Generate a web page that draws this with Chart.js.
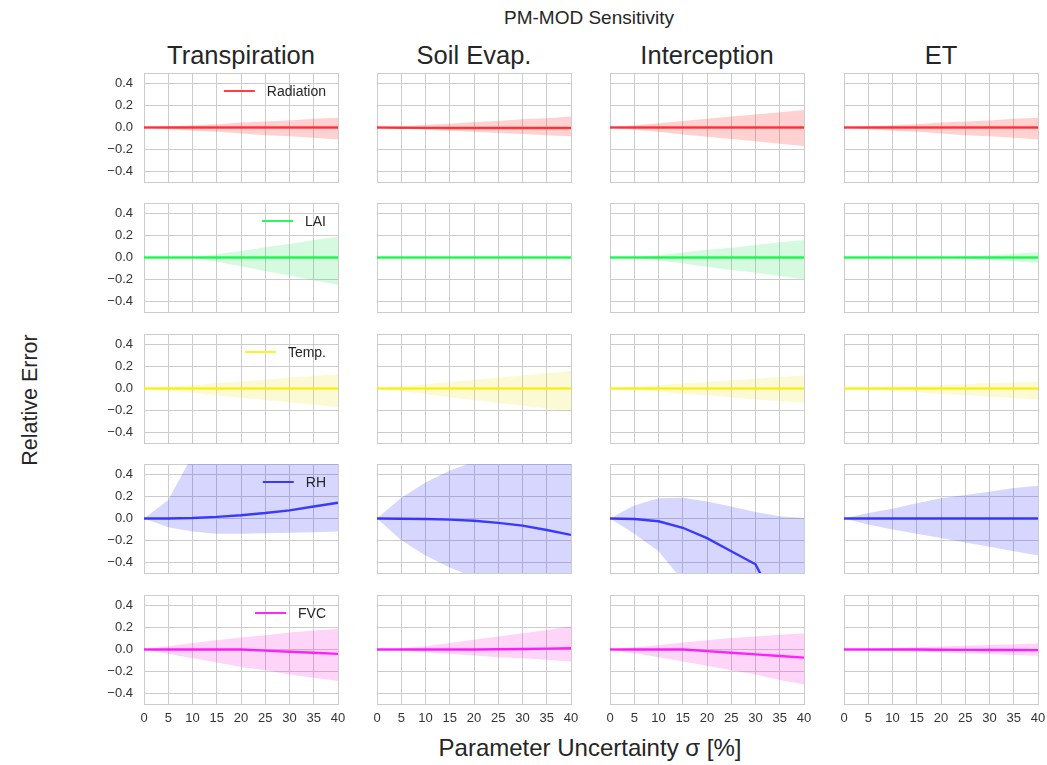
<!DOCTYPE html>
<html>
<head>
<meta charset="utf-8">
<script src="https://cdn.jsdelivr.net/npm/chart.js@4.4.0/dist/chart.umd.min.js"></script>
<style>
  body { margin: 0; background: #fff; font-family: "Liberation Sans", Arial, sans-serif; color: #262626; }
  #page { position: relative; width: 1047px; height: 765px; overflow: hidden; }
  #page canvas { position: absolute; }
  .txt { position: absolute; white-space: nowrap; }
  .legend { position: absolute; display: flex; align-items: center; font-size: 14px; color: #262626; transform: translate(-100%, -50%); }
  .legend span.ln { display: inline-block; width: 31px; height: 2.4px; margin-right: 12px; }
</style>
</head>
<body>
<div id="page">
  <div class="txt" style="left:589px; top:18px; font-size:19px; transform:translate(-50%,-50%);">PM-MOD Sensitivity</div>
  <div class="txt" style="left:30px; top:400px; font-size:21.5px; transform:translate(-50%,-50%) rotate(-90deg);">Relative Error</div>
  <div class="txt" style="left:590px; top:748px; font-size:24px; transform:translate(-50%,-50%);">Parameter Uncertainty σ [%]</div>
</div>
<script>
// x values (parameter uncertainty, %)
const sigma = [0, 5, 10, 15, 20, 25, 30, 35, 40];
const components = ["Transpiration", "Soil Evap.", "Interception", "ET"];
const parameters = ["Radiation", "LAI", "Temp.", "RH", "FVC"];
const xTicks = [0, 5, 10, 15, 20, 25, 30, 35, 40];
const yTicks = [-0.4, -0.2, 0, 0.2, 0.4];

// each array: one row per component (Transpiration, Soil Evap., Interception, ET)
const radiationMean = [
  [0, 0, 0, 0, 0, 0, 0, 0, 0],
  [0, -0.002, -0.003, -0.004, -0.005, -0.005, -0.005, -0.005, -0.005],
  [0, 0, 0, 0, 0, 0, 0, 0, 0],
  [0, 0, 0, 0, 0, 0, 0, 0, 0]
];
const radiationHigh = [
  [0, 0.01, 0.02, 0.03, 0.045, 0.055, 0.065, 0.08, 0.09],
  [0, 0.01, 0.025, 0.035, 0.05, 0.06, 0.075, 0.085, 0.1],
  [0, 0.02, 0.04, 0.06, 0.08, 0.1, 0.12, 0.14, 0.16],
  [0, 0.01, 0.02, 0.03, 0.045, 0.055, 0.065, 0.08, 0.09]
];
const radiationLow = [
  [0, -0.015, -0.03, -0.04, -0.055, -0.07, -0.08, -0.095, -0.11],
  [0, -0.01, -0.02, -0.03, -0.04, -0.05, -0.06, -0.07, -0.08],
  [0, -0.02, -0.04, -0.065, -0.085, -0.105, -0.125, -0.15, -0.17],
  [0, -0.015, -0.03, -0.04, -0.055, -0.07, -0.08, -0.095, -0.11]
];

const laiMean = [
  [0, 0, 0, 0, 0, 0, 0, 0, 0],
  [0, 0, 0, 0, 0, 0, 0, 0, 0],
  [0, 0, 0, 0, 0, 0, 0, 0, 0],
  [0, 0, 0, 0, 0, 0, 0, 0, 0]
];
const laiHigh = [
  [0, 0, 0, 0.03, 0.06, 0.095, 0.125, 0.16, 0.19],
  [0, 0, 0, 0, 0, 0, 0, 0, 0],
  [0, 0, 0.02, 0.045, 0.07, 0.09, 0.115, 0.14, 0.16],
  [0, 0, 0, 0, 0, 0.01, 0.02, 0.035, 0.05]
];
const laiLow = [
  [0, 0, 0, -0.04, -0.08, -0.125, -0.165, -0.21, -0.25],
  [0, 0, 0, 0, 0, 0, 0, 0, 0],
  [0, 0, -0.025, -0.055, -0.085, -0.115, -0.14, -0.17, -0.2],
  [0, 0, 0, 0, 0, -0.01, -0.02, -0.035, -0.05]
];

const tempMean = [
  [0, 0, 0, 0, 0, 0, 0, 0, 0],
  [0, 0, 0, 0, 0, 0, 0, 0, 0],
  [0, 0, 0, 0, 0, 0, 0, 0, 0],
  [0, 0, 0, 0, 0, 0, 0, 0, 0]
];
const tempHigh = [
  [0, 0.015, 0.03, 0.05, 0.065, 0.08, 0.1, 0.115, 0.13],
  [0, 0.02, 0.04, 0.06, 0.08, 0.1, 0.12, 0.14, 0.16],
  [0, 0.015, 0.03, 0.045, 0.06, 0.075, 0.09, 0.105, 0.12],
  [0, 0.008, 0.016, 0.024, 0.032, 0.04, 0.05, 0.058, 0.065]
];
const tempLow = [
  [0, -0.02, -0.04, -0.065, -0.085, -0.105, -0.125, -0.15, -0.17],
  [0, -0.025, -0.05, -0.08, -0.105, -0.13, -0.155, -0.185, -0.21],
  [0, -0.015, -0.03, -0.05, -0.065, -0.08, -0.1, -0.115, -0.13],
  [0, -0.01, -0.025, -0.035, -0.05, -0.06, -0.075, -0.09, -0.1]
];

const rhMean = [
  [0, 0, 0.005, 0.015, 0.03, 0.05, 0.075, 0.11, 0.145],
  [0, -0.002, -0.005, -0.01, -0.02, -0.04, -0.065, -0.105, -0.15],
  [0, -0.005, -0.025, -0.085, -0.18, -0.3, -0.42, -0.85, -1.3],
  [0, 0, 0, 0, 0, 0, 0, 0, 0]
];
const rhHigh = [
  [0, 0.17, 0.58, 0.8, 0.95, 1.05, 1.15, 1.2, 1.25],
  [0, 0.19, 0.33, 0.44, 0.52, 0.6, 0.66, 0.7, 0.74],
  [0, 0.12, 0.185, 0.19, 0.155, 0.11, 0.06, 0.02, 0.005],
  [0, 0.05, 0.09, 0.14, 0.185, 0.215, 0.245, 0.28, 0.3]
];
const rhLow = [
  [0, -0.08, -0.12, -0.14, -0.14, -0.135, -0.13, -0.125, -0.12],
  [0, -0.2, -0.34, -0.45, -0.54, -0.65, -0.72, -0.78, -0.83],
  [0, -0.14, -0.3, -0.57, -0.72, -0.9, -1.05, -1.2, -1.3],
  [0, -0.055, -0.1, -0.14, -0.18, -0.22, -0.26, -0.3, -0.34]
];

const fvcMean = [
  [0, 0, 0, 0, 0, -0.01, -0.02, -0.03, -0.04],
  [0, 0, 0, 0, 0, 0.002, 0.005, 0.008, 0.012],
  [0, 0, 0, 0, -0.015, -0.03, -0.045, -0.06, -0.075],
  [0, 0, 0, 0, -0.002, -0.003, -0.004, -0.005, -0.006]
];
const fvcHigh = [
  [0, 0.03, 0.06, 0.085, 0.11, 0.13, 0.155, 0.175, 0.19],
  [0, 0.01, 0.03, 0.06, 0.09, 0.12, 0.15, 0.18, 0.21],
  [0, 0.02, 0.04, 0.065, 0.085, 0.105, 0.12, 0.135, 0.15],
  [0, 0.007, 0.014, 0.021, 0.028, 0.035, 0.042, 0.049, 0.055]
];
const fvcLow = [
  [0, -0.04, -0.08, -0.12, -0.16, -0.19, -0.23, -0.26, -0.29],
  [0, -0.01, -0.025, -0.04, -0.055, -0.07, -0.08, -0.095, -0.11],
  [0, -0.035, -0.07, -0.11, -0.15, -0.19, -0.23, -0.28, -0.32],
  [0, -0.007, -0.014, -0.021, -0.028, -0.035, -0.042, -0.05, -0.058]
];

const series = [
  { mean: radiationMean, high: radiationHigh, low: radiationLow },
  { mean: laiMean, high: laiHigh, low: laiLow },
  { mean: tempMean, high: tempHigh, low: tempLow },
  { mean: rhMean, high: rhHigh, low: rhLow },
  { mean: fvcMean, high: fvcHigh, low: fvcLow }
];

// styles
const lineColors = ["rgba(255,30,30,0.85)", "rgba(0,250,60,0.85)", "rgba(255,240,0,0.85)", "rgba(30,30,255,0.85)", "rgba(255,0,255,0.85)"];
const fillColors = ["rgba(255,0,0,0.18)", "rgba(0,225,60,0.16)", "rgba(240,225,0,0.17)", "rgba(0,0,255,0.16)", "rgba(255,0,220,0.17)"];
const plotLeft = [144, 377, 610, 844];
const plotTop = [73, 203, 334, 464, 595];
const plotW = 194, plotH = 109;
const gridColor = "#cccccc";
const font = "'Liberation Sans', Arial, sans-serif";

const page = document.getElementById("page");

function pts(arr) {
  return sigma.map((x, i) => ({ x: x, y: arr[i] }));
}

function fmt(v) {
  return v.toFixed(1).replace("-", "\u2212");
}

// column titles
components.forEach((name, c) => {
  const d = document.createElement("div");
  d.className = "txt";
  d.style.cssText = `left:${plotLeft[c] + plotW / 2}px; top:55px; font-size:25.5px; transform:translate(-50%,-50%);`;
  d.textContent = name;
  page.appendChild(d);
});

parameters.forEach((param, r) => {
  components.forEach((comp, c) => {
    const yw = c === 0 ? 45 : 0;
    const xh = r === 4 ? 26 : 1;
    const pad = { left: 8, right: 10, top: 2, bottom: 0 };
    const cv = document.createElement("canvas");
    const w = pad.left + yw + plotW + pad.right;
    const h = pad.top + plotH + xh;
    cv.width = w;
    cv.height = h;
    cv.style.left = (plotLeft[c] - pad.left - yw) + "px";
    cv.style.top = (plotTop[r] - pad.top) + "px";
    cv.style.width = w + "px";
    cv.style.height = h + "px";
    page.appendChild(cv);

    new Chart(cv, {
      type: "line",
      data: {
        datasets: [
          { label: param, data: pts(series[r].mean[c]), borderColor: lineColors[r], borderWidth: 2.4, pointRadius: 0, fill: false, tension: 0 },
          { label: "high", data: pts(series[r].high[c]), borderWidth: 0, borderColor: "transparent", pointRadius: 0, backgroundColor: fillColors[r], fill: "+1", tension: 0 },
          { label: "low", data: pts(series[r].low[c]), borderWidth: 0, borderColor: "transparent", pointRadius: 0, fill: false, tension: 0 }
        ]
      },
      options: {
        responsive: false,
        animation: false,
        events: [],
        layout: { padding: pad, autoPadding: false },
        plugins: { legend: { display: false }, tooltip: { enabled: false } },
        scales: {
          x: {
            type: "linear",
            min: 0,
            max: 40,
            afterBuildTicks: (ax) => { ax.ticks = xTicks.map(v => ({ value: v })); },
            afterFit: (ax) => { ax.height = xh; ax.paddingLeft = 0; ax.paddingRight = 0; },
            grid: { color: gridColor, lineWidth: 1, drawTicks: false },
            border: { color: gridColor, width: 1 },
            ticks: { display: r === 4, autoSkip: false, color: "#333", padding: 7, maxRotation: 0, font: { family: font, size: 13 } }
          },
          y: {
            min: -0.5,
            max: 0.5,
            afterBuildTicks: (ax) => { ax.ticks = [-0.5].concat(yTicks, [0.5]).map(v => ({ value: v })); },
            afterFit: (ax) => { ax.width = yw; ax.paddingTop = 0; ax.paddingBottom = 0; },
            grid: { color: gridColor, lineWidth: 1, drawTicks: false },
            border: { color: gridColor, width: 1 },
            ticks: {
              display: c === 0,
              autoSkip: false,
              color: "#333",
              padding: 11,
              font: { family: font, size: 13 },
              callback: (v) => (Math.abs(v) > 0.45 ? "" : fmt(v))
            }
          }
        }
      }
    });

    // legend inside the first column
    if (c === 0) {
      const lg = document.createElement("div");
      lg.className = "legend";
      lg.style.left = "326px";
      lg.style.top = (plotTop[r] + 18) + "px";
      lg.innerHTML = `<span class="ln" style="background:${lineColors[r]}"></span><span>${param}</span>`;
      page.appendChild(lg);
    }
  });
});
</script>
</body>
</html>
